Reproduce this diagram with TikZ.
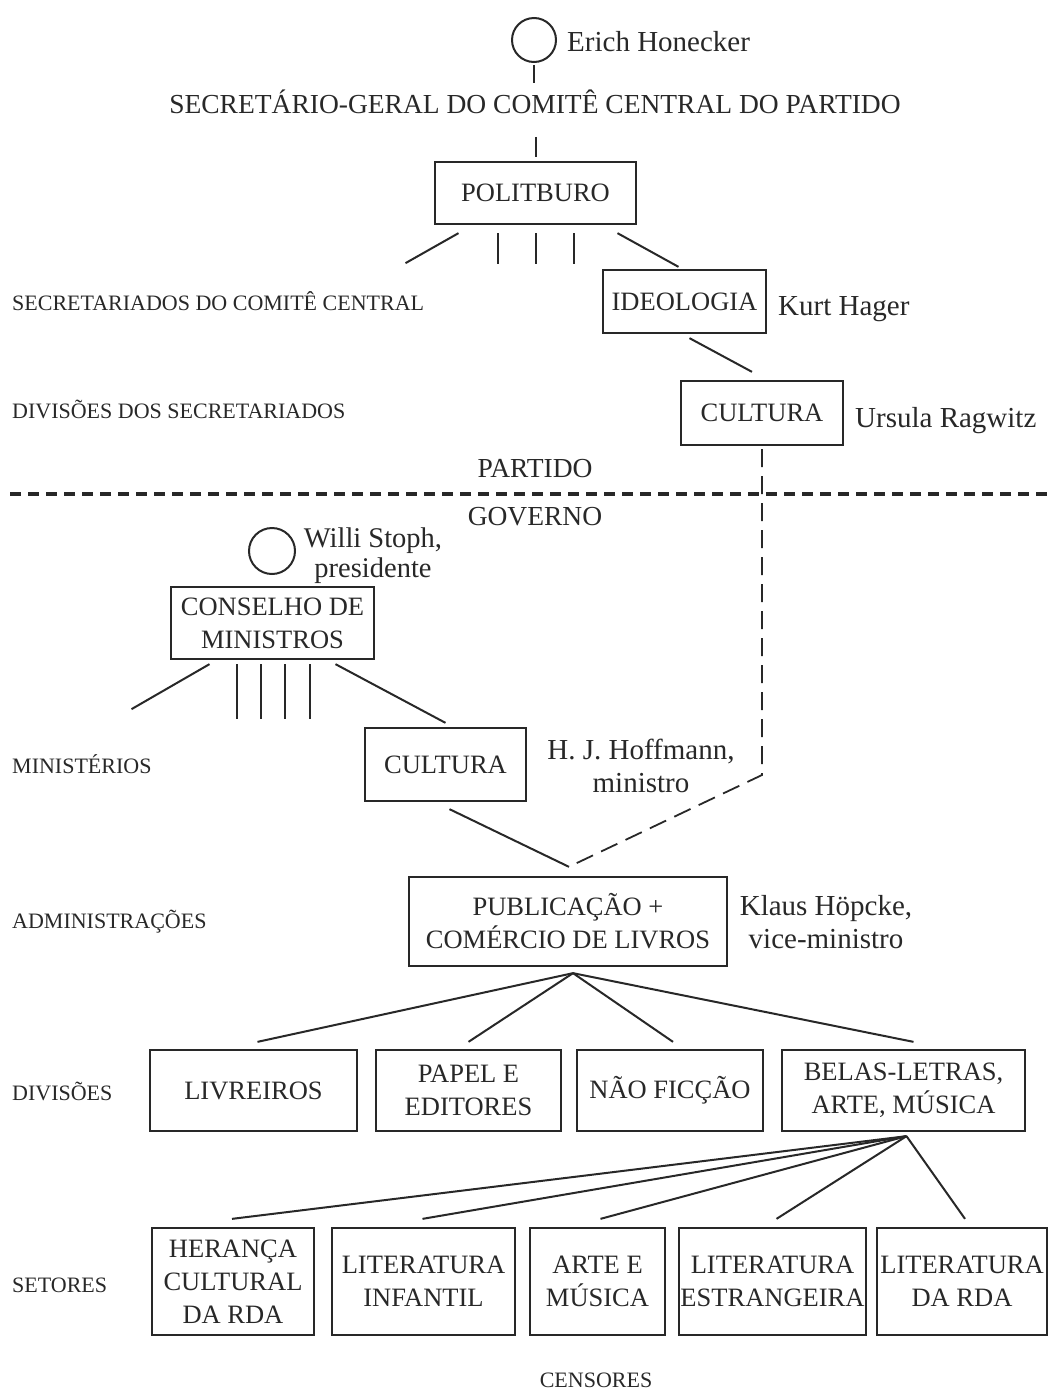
\documentclass[tikz,border=0pt]{standalone}
\usepackage{fontspec}
\setmainfont{Liberation Serif}
\usepackage{tikz}
\usetikzlibrary{positioning, calc}
\definecolor{inkgray}{RGB}{40, 40, 40}
\newcommand{\boxfont}{\fontsize{26.5}{33}\selectfont}
\newcommand{\headingfont}{\fontsize{27.5}{33}\selectfont}
\newcommand{\namefont}{\fontsize{29}{33}\selectfont}
\newcommand{\tierfont}{\fontsize{22}{26}\selectfont}

\begin{document}
\begin{tikzpicture}[x=1pt, y=-1pt,
  every node/.style={text=inkgray},
  orgbox/.style={draw=inkgray, line width=2.3pt, inner sep=1pt, align=center, font=\boxfont},
  person/.style={font=\namefont, align=center, inner sep=0pt},
  heading/.style={font=\headingfont, anchor=base, inner sep=0pt},
  tier/.style={font=\tierfont, anchor=base west, inner sep=0pt},
  head/.style={draw=inkgray, line width=2pt, circle, inner sep=0pt},
  conn/.style={draw=inkgray, line width=2pt},
  dashlink/.style={draw=inkgray, line width=1.8pt, dash pattern=on 18pt off 9pt},
  border/.style={draw=inkgray, line width=3.2pt, dash pattern=on 11pt off 7pt}]
  \useasboundingbox (0,0) rectangle (1050,1390);

  % Party leadership
  \node[head, minimum size=44pt] (honecker) at (534,40) {};
  \node[person, anchor=base west] (honeckername) at (567,51) {Erich Honecker};
  \node[heading] (secgeral) at (535,113) {SECRETÁRIO-GERAL DO COMITÊ CENTRAL DO PARTIDO};
  \node[orgbox, minimum width=201pt, minimum height=62pt] (politburo) at (535.5,193) {POLITBURO};
  \draw[conn] ([yshift=-2pt]honecker.south) -- ([yshift=-20pt]honecker.south);
  \draw[conn] ([yshift=24pt]politburo.north) -- ([yshift=4pt]politburo.north);

  % Secretariats
  \node[orgbox, minimum width=163pt, minimum height=63pt] (ideologia) at (684.5,301.5) {IDEOLOGIA};
  \node[person, anchor=base west] (hager) at (778,315) {Kurt Hager};
  \node[tier] (secretariados) at (12,310) {SECRETARIADOS DO COMITÊ CENTRAL};
  \draw[conn] ([xshift=-77pt,yshift=-8pt]politburo.south) -- ([xshift=-130pt,yshift=-38pt]politburo.south);
  \foreach \dx in {-38,0,38}
    \draw[conn] ([xshift=\dx pt,yshift=-8pt]politburo.south) -- ([xshift=\dx pt,yshift=-39pt]politburo.south);
  \draw[conn] ([xshift=82pt,yshift=-8pt]politburo.south) -- ([xshift=-6pt,yshift=2pt]ideologia.north);

  % Divisions of the secretariats
  \node[orgbox, minimum width=162pt, minimum height=64pt] (cultpartido) at (762,413) {CULTURA};
  \node[person, anchor=base west] (ragwitz) at (855,427) {Ursula Ragwitz};
  \node[tier] (divsecretariados) at (12,418) {DIVISÕES DOS SECRETARIADOS};
  \draw[conn] ([xshift=5pt,yshift=-4pt]ideologia.south) -- ([xshift=-10pt,yshift=8pt]cultpartido.north);

  % Party / government border
  \node[heading] (partido) at (535,477) {PARTIDO};
  \coordinate (borderw) at (10,494);
  \coordinate (bordere) at (1050,494);
  \draw[border] (borderw) -- (bordere);
  \node[heading] (governo) at (535,525) {GOVERNO};

  % Council of ministers
  \node[head, minimum size=46pt] (stoph) at (272,551) {};
  \node[person, font=\fontsize{28.5}{30}\selectfont] (stophname) at (373,556) {Willi Stoph,\\presidente};
  \node[orgbox, minimum width=203pt, minimum height=72pt] (conselho) at (272.5,623) {CONSELHO DE\\MINISTROS};

  % Ministries
  \node[orgbox, minimum width=161pt, minimum height=73pt] (cultgoverno) at (445.5,764.5) {CULTURA};
  \node[person] (hoffmann) at (641,766) {H. J. Hoffmann,\\ministro};
  \node[tier] (ministerios) at (12,773) {MINISTÉRIOS};
  \draw[conn] ([xshift=-63pt,yshift=-4pt]conselho.south) -- ([xshift=-141pt,yshift=-49pt]conselho.south);
  \foreach \dx in {-36,-12,12,37}
    \draw[conn] ([xshift=\dx pt,yshift=-4pt]conselho.south) -- ([xshift=\dx pt,yshift=-59pt]conselho.south);
  \draw[conn] ([xshift=63pt,yshift=-4pt]conselho.south) -- ([yshift=4pt]cultgoverno.north);

  % Administration
  \node[orgbox, minimum width=318pt, minimum height=89pt] (publicacao) at (568,921.5) {PUBLICAÇÃO +\\COMÉRCIO DE LIVROS};
  \node[person] (hoepcke) at (826,922) {Klaus Höpcke,\\vice-ministro};
  \node[tier] (administracoes) at (12,928) {ADMINISTRAÇÕES};
  \draw[conn] ([xshift=4pt,yshift=-7pt]cultgoverno.south) -- ([xshift=1pt,yshift=9pt]publicacao.north);
  \coordinate (dashbend) at (762,775);
  \draw[dashlink] ([yshift=-3pt]cultpartido.south) -- (dashbend) -- ([xshift=5pt,yshift=11pt]publicacao.north);

  % Divisions
  \node[orgbox, minimum width=207pt, minimum height=81pt] (livreiros) at (253.5,1090.5) {LIVREIROS};
  \node[orgbox, minimum width=185pt, minimum height=81pt] (papel) at (468.5,1090.5) {PAPEL E\\EDITORES};
  \node[orgbox, minimum width=186pt, minimum height=81pt] (naoficcao) at (670,1090.5) {NÃO FICÇÃO};
  \node[orgbox, minimum width=243pt, minimum height=81pt] (belas) at (903.5,1090.5) {BELAS-LETRAS,\\ARTE, MÚSICA};
  \node[tier] (divisoes) at (12,1100) {DIVISÕES};
  \foreach \dname/\dx in {livreiros/4, papel/0, naoficcao/3, belas/10}
    \draw[conn] ([xshift=5pt,yshift=-6pt]publicacao.south) -- ([xshift=\dx pt,yshift=7pt]\dname.north);

  % Sectors
  \node[orgbox, minimum width=162pt, minimum height=107pt] (heranca) at (233,1281.5) {HERANÇA\\CULTURAL\\DA RDA};
  \node[orgbox, minimum width=183pt, minimum height=107pt] (infantil) at (423.5,1281.5) {LITERATURA\\INFANTIL};
  \node[orgbox, minimum width=135pt, minimum height=107pt] (arte) at (597.5,1281.5) {ARTE E\\MÚSICA};
  \node[orgbox, minimum width=187pt, minimum height=107pt] (estrangeira) at (772.5,1281.5) {LITERATURA\\ESTRANGEIRA};
  \node[orgbox, minimum width=170pt, minimum height=107pt] (rdalit) at (962,1281.5) {LITERATURA\\DA RDA};
  \node[tier] (setores) at (12,1292) {SETORES};
  \foreach \dname/\dx in {heranca/-1, infantil/-1, arte/3, estrangeira/4, rdalit/3}
    \draw[conn] ([xshift=3pt,yshift=-4pt]belas.south) -- ([xshift=\dx pt,yshift=8pt]\dname.north);

  \node[tier, anchor=base] (censores) at (596,1387) {CENSORES};
\end{tikzpicture}
\end{document}
